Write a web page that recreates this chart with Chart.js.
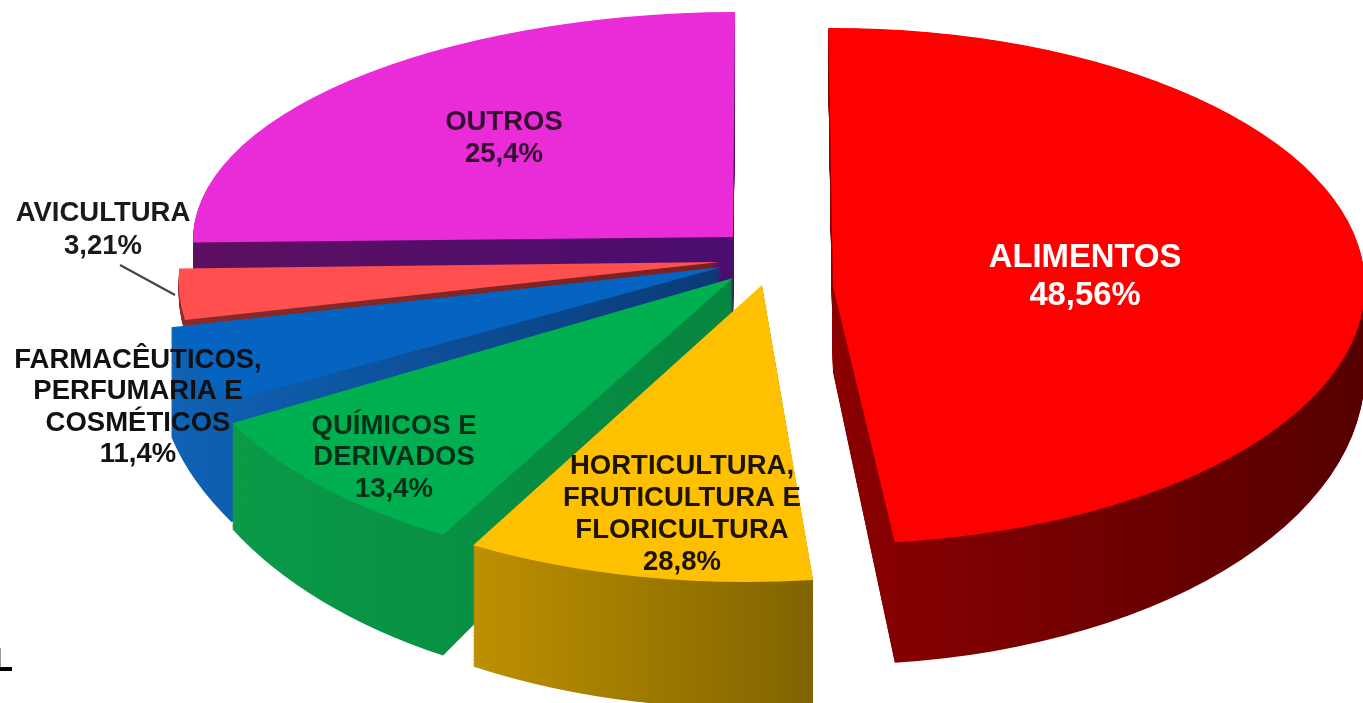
<!DOCTYPE html>
<html>
<head>
<meta charset="utf-8">
<title>Pizza 3D</title>
<script src="https://cdn.jsdelivr.net/npm/chart.js@4"></script>
<style>
html, body { margin: 0; padding: 0; background: #fff; overflow: hidden; }
#pie3d { display: block; filter: blur(0.5px); }
</style>
</head>
<body>
<canvas id="pie3d" width="1363" height="703"></canvas>
<script>
var categories = ["ALIMENTOS", "HORTICULTURA, FRUTICULTURA E FLORICULTURA", "QUÍMICOS E DERIVADOS", "FARMACÊUTICOS, PERFUMARIA E COSMÉTICOS", "AVICULTURA", "OUTROS"];
// printed percentages do not add up to 100, so the slice sizes are read from the drawn angles
var sliceShares = [48.56, 9.9, 8.8, 4.7, 3.21, 25.4];
var printedValues = ["48,56%", "28,8%", "13,4%", "11,4%", "3,21%", "25,4%"];
var labelLines = [["ALIMENTOS"], ["HORTICULTURA,", "FRUTICULTURA E", "FLORICULTURA"], ["QUÍMICOS E", "DERIVADOS"], ["FARMACÊUTICOS,", "PERFUMARIA E", "COSMÉTICOS"], ["AVICULTURA"], ["OUTROS"]];

// styles
var topColors = ["#ff0000", "#ffc000", "#00b050", "#0563c1", "#ff4f4f", "#e92bd8"];
var wallLeft = ["#8c0000", "#bd9000", "#0a9a48", "#0f62b5", "#8a2a2a", "#5d0f60"];
var wallRight = ["#560000", "#806400", "#06853f", "#0a3a78", "#7a2020", "#4a0d70"];

// explosion and perspective of each slice, in pixels
var pieCenter = [735, 262];
var pullX = [98, 27, -2, -13, -15, -2];
var pullY = [24, 23, 16, 5, 0, -25];
var radiusX = [532, 572, 565, 565, 540, 540];
var radiusY = [258, 297, 293, 270, 260, 225];
var lean = [0, -0.052, -0.07, 0, -0.15, -0.03];
var wallDepth = [86, 86, 86, 100, 12, 86];
var paintOrder = [5, 4, 3, 0, 2, 1];
var backDepth = 86;
var depthGrowth = 0.135;

// label placement: centre x, first line y, line height, font size
var labelX = [1085, 682, 394, 138, 103, 504];
var labelY = [258, 466, 426, 360, 213, 122];
var labelStep = [38, 32, 31.5, 31.6, 33, 32];
var labelSize = [32.8, 27.5, 27.5, 27.5, 27.5, 27.5];
var labelColor = ["#ffffff", "#1c1400", "#04301a", "#111111", "#1a1a1a", "#30102c"];

function placeSlice(ctx, arc, i, t) {
  var R = arc.outerRadius;
  var sx = radiusX[i] / R;
  var sy = radiusY[i] / R;
  ctx.translate(pieCenter[0] + pullX[i], pieCenter[1] + pullY[i] + backDepth * t);
  ctx.transform(sx, 0, lean[i] * sy, sy * (1 + depthGrowth * t), 0, 0);
  ctx.translate(-arc.x, -arc.y);
}

function wallGradient(ctx, arc, i) {
  var a0 = arc.startAngle, a1 = arc.endAngle, R = arc.outerRadius;
  var xs = [0, Math.cos(a0) * R, Math.cos(a1) * R];
  if (a0 < 0 && a1 > 0 || a0 < 2 * Math.PI && a1 > 2 * Math.PI) xs.push(R);
  if (a0 < Math.PI && a1 > Math.PI) xs.push(-R);
  var g = ctx.createLinearGradient(arc.x + Math.min.apply(null, xs), 0, arc.x + Math.max.apply(null, xs), 0);
  g.addColorStop(0, wallLeft[i]);
  g.addColorStop(1, wallRight[i]);
  return g;
}

var pie3dPlugin = {
  id: "pie3d",
  beforeDatasetDraw: function () {
    return false;
  },
  afterDatasetsDraw: function (chart) {
    var ctx = chart.ctx;
    var arcs = chart.getDatasetMeta(0).data;
    paintOrder.forEach(function (i) {
      var arc = arcs[i];
      var own = arc.options;
      var wall = Object.create(own);
      wall.backgroundColor = wallGradient(ctx, arc, i);
      arc.options = wall;
      for (var d = wallDepth[i]; d > 0; d--) {
        ctx.save();
        placeSlice(ctx, arc, i, d / backDepth);
        arc.draw(ctx);
        ctx.restore();
      }
      arc.options = own;
      ctx.save();
      placeSlice(ctx, arc, i, 0);
      arc.draw(ctx);
      ctx.restore();
    });
  },
  afterDraw: function (chart) {
    var ctx = chart.ctx;
    ctx.save();
    // leader line of AVICULTURA
    ctx.strokeStyle = "#444444";
    ctx.lineWidth = 2;
    ctx.beginPath();
    ctx.moveTo(120, 265);
    ctx.lineTo(175, 295);
    ctx.stroke();
    // scrap of the original frame, bottom left
    ctx.fillStyle = "#999999";
    ctx.fillRect(0, 648, 1, 20);
    ctx.fillStyle = "#000000";
    ctx.fillRect(0, 667, 12, 4);
    // labels
    ctx.textAlign = "center";
    ctx.textBaseline = "middle";
    categories.forEach(function (name, i) {
      var lines = labelLines[i].concat(printedValues[i]);
      ctx.font = "bold " + labelSize[i] + "px 'Liberation Sans', Arial, sans-serif";
      ctx.fillStyle = labelColor[i];
      lines.forEach(function (line, n) {
        ctx.fillText(line, labelX[i], labelY[i] + n * labelStep[i]);
      });
    });
    ctx.restore();
  }
};

var ctxP = document.getElementById("pie3d").getContext("2d");
var myPieChart = new Chart(ctxP, {
  type: "pie",
  data: {
    labels: categories,
    datasets: [{
      data: sliceShares,
      backgroundColor: topColors,
      borderWidth: 0
    }]
  },
  options: {
    responsive: false,
    animation: false,
    rotation: -0.5,
    events: [],
    plugins: {
      legend: { display: false },
      tooltip: { enabled: false }
    }
  },
  plugins: [pie3dPlugin]
});
</script>
</body>
</html>
